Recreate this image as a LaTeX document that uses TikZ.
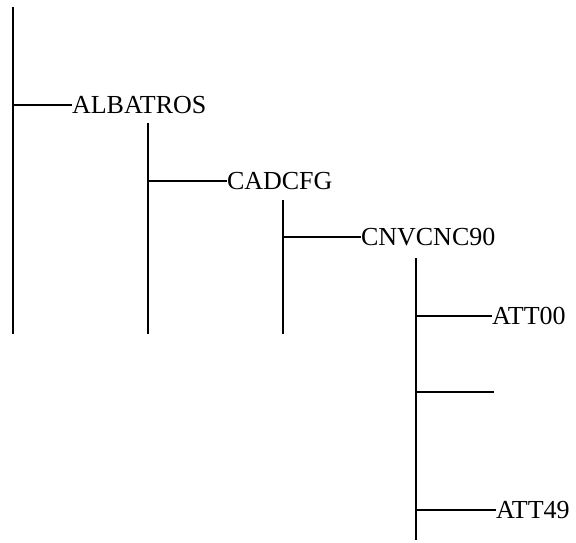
\documentclass[tikz,border=0pt]{standalone}
\usepackage{fontspec}
\setmainfont{Liberation Serif}
\begin{document}
\begin{tikzpicture}[x=1pt,y=-1pt,
  wire/.style={line width=1.6pt, line cap=butt},
  lbl/.style={anchor=west, inner sep=0pt, outer sep=0pt, font=\fontsize{26}{30}\selectfont}]
\useasboundingbox (0,0) rectangle (576,542);
% level 1
\coordinate (t1) at (13,7);
\coordinate (b1) at (13,334);
\coordinate (j1) at (13,105);
\node[lbl] (albatros) at (72,105) {ALBATROS};
% level 2
\coordinate (t2) at (148,123);
\coordinate (b2) at (148,334);
\coordinate (j2) at (148,181);
\node[lbl] (cadcfg) at (227,181) {CADCFG};
% level 3
\coordinate (t3) at (283,200);
\coordinate (b3) at (283,334);
\coordinate (j3) at (283,237);
\node[lbl] (cnv) at (361,237) {CNVCNC90};
% level 4
\coordinate (t4) at (416,258);
\coordinate (b4) at (416,540);
\coordinate (j4) at (416,316);
\node[lbl] (att00) at (492,316) {ATT00};
\coordinate (j5) at (416,392);
\coordinate (e5) at (494,392);
\coordinate (j6) at (416,510);
\node[lbl] (att49) at (496,510) {ATT49};
% wires
\draw[wire] (t1) -- (b1);
\draw[wire] (j1) -- (albatros.west);
\draw[wire] (t2) -- (b2);
\draw[wire] (j2) -- (cadcfg.west);
\draw[wire] (t3) -- (b3);
\draw[wire] (j3) -- (cnv.west);
\draw[wire] (t4) -- (b4);
\draw[wire] (j4) -- (att00.west);
\draw[wire] (j5) -- (e5);
\draw[wire] (j6) -- (att49.west);
\end{tikzpicture}
\end{document}
